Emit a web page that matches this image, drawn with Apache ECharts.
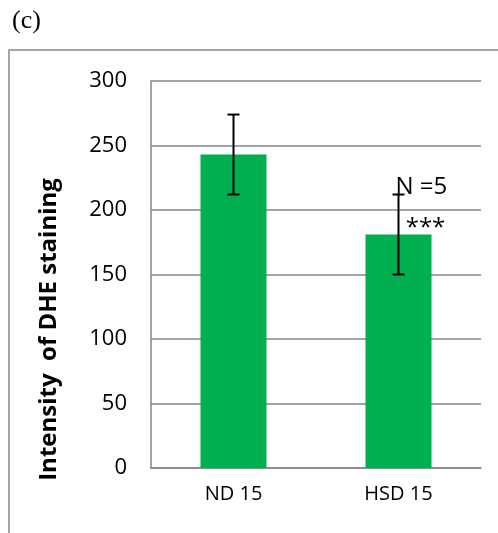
<!DOCTYPE html>
<html><head><meta charset="utf-8">
<script src="https://cdn.jsdelivr.net/npm/echarts@6/dist/echarts.min.js"></script>
<style>html,body{margin:0;padding:0;background:#fff}#c{width:498px;height:533px}</style>
</head><body><div id="c"></div>
<script>
const categories = ['ND 15', 'HSD 15'];
const means = [243, 181];
const errors = [31, 31];
const yTicks = [0, 50, 100, 150, 200, 250, 300];
const annotations = [
  {cat: 1, value: 212, text: 'N =5'},
  {cat: 1, value: 181, text: '***'}
];

const chart = echarts.init(document.getElementById('c'));
const errData = categories.map((c, i) => [i, means[i] - errors[i], means[i] + errors[i]]);
const annData = annotations.map(a => [a.cat, a.value]);
chart.setOption({
  animation: false,
  graphic: [
    {type: 'rect', shape: {x: 9, y: 50, width: 495, height: 500}, style: {fill: 'none', stroke: '#888', lineWidth: 1.5}},
    {type: 'text', left: 12, top: 8, style: {text: '(c)', font: '26px "Liberation Serif"', fill: '#000'}}
  ],
  grid: {left: 151, right: 17, top: 81, bottom: 65},
  xAxis: {
    type: 'category', data: categories,
    axisLine: {lineStyle: {color: '#868686', width: 1.5}},
    axisTick: {show: false},
    axisLabel: {color: '#000', fontSize: 20, fontFamily: 'Open Sans', margin: 16}
  },
  yAxis: {
    type: 'value', min: 0, max: 300, interval: 50,
    name: 'Intensity  of DHE staining', nameLocation: 'middle', nameGap: 90,
    nameTextStyle: {fontSize: 24, fontWeight: 'bold', fontFamily: 'Open Sans', color: '#000', padding: [0, 110, 0, 0]},
    axisLine: {show: true, lineStyle: {color: '#868686', width: 1.5}},
    axisTick: {show: false},
    splitLine: {lineStyle: {color: '#868686', width: 1.5}},
    axisLabel: {color: '#000', fontSize: 22, fontFamily: 'Open Sans', margin: 24,
      formatter: v => yTicks.includes(v) ? String(v) : ''}
  },
  series: [
    {type: 'bar', data: means, barWidth: '40%', itemStyle: {color: '#00b050'}},
    {type: 'custom', data: errData, z: 10,
      renderItem: (params, api) => {
        const x = api.value(0);
        const lo = api.coord([x, api.value(1)]);
        const hi = api.coord([x, api.value(2)]);
        const hw = 6;
        const st = {stroke: '#000', lineWidth: 2};
        return {type: 'group', children: [
          {type: 'line', shape: {x1: lo[0], y1: lo[1], x2: hi[0], y2: hi[1]}, style: st},
          {type: 'line', shape: {x1: lo[0] - hw, y1: lo[1], x2: lo[0] + hw, y2: lo[1]}, style: st},
          {type: 'line', shape: {x1: hi[0] - hw, y1: hi[1], x2: hi[0] + hw, y2: hi[1]}, style: st}
        ]};
      }
    },
    {type: 'custom', data: annData, z: 20,
      renderItem: (params, api) => {
        const p = api.coord([api.value(0), api.value(1)]);
        const a = annotations[params.dataIndex];
        const isN = a.text.startsWith('N');
        return {type: 'text', x: p[0] + (isN ? -3 : 27), y: p[1] + (isN ? -7 : -6),
          style: {text: a.text, fill: '#000', font: (isN ? '24px' : '24px') + ' "Open Sans"',
            align: isN ? 'left' : 'center', verticalAlign: 'middle'}};
      }
    }
  ]
});
</script></body></html>
